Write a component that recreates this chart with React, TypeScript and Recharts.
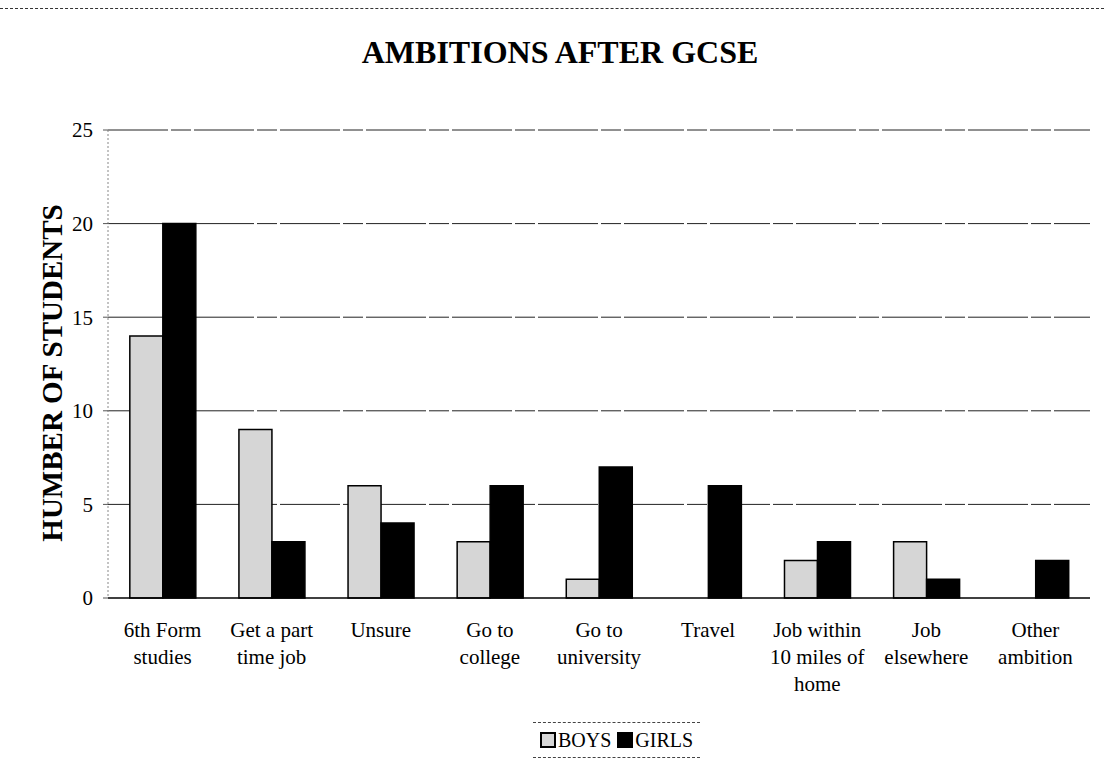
import React from 'react';
import { BarChart, Bar, XAxis, YAxis, CartesianGrid } from 'recharts';

const categories = [
  '6th Form\nstudies',
  'Get a part\ntime job',
  'Unsure',
  'Go to\ncollege',
  'Go to\nuniversity',
  'Travel',
  'Job within\n10 miles of\nhome',
  'Job\nelsewhere',
  'Other\nambition',
];
const boys = [14, 9, 6, 3, 1, 0, 2, 3, 0];
const girls = [20, 3, 4, 6, 7, 6, 3, 1, 2];
const yTicks = [0, 5, 10, 15, 20, 25];

const data = categories.map((name, i) => ({ name, boys: boys[i], girls: girls[i] }));

const FONT = '"Liberation Serif", "Times New Roman", serif';

function CategoryTick(props: any) {
  const { x, y, payload } = props;
  const lines = String(payload.value).split('\n');
  return (
    <text x={x} y={y + 31} textAnchor="middle" fontFamily={FONT} fontSize={21} fill="#000">
      {lines.map((l, i) => (
        <tspan key={i} x={x} dy={i === 0 ? 0 : 27}>{l}</tspan>
      ))}
    </text>
  );
}

function Legend() {
  return (
    <div
      style={{
        position: 'absolute', left: 533, top: 722, width: 167, height: 34,
        borderTop: '1px dashed #444', borderBottom: '1px dashed #444',
        display: 'flex', alignItems: 'center', justifyContent: 'center',
        fontFamily: FONT, fontSize: 20, color: '#000', gap: 6,
      }}
    >
      <span style={{ display: 'flex', alignItems: 'center' }}>
        <span style={{ width: 12, height: 12, background: '#d6d6d6', border: '2px solid #000', marginRight: 2 }} />
        BOYS
      </span>
      <span style={{ display: 'flex', alignItems: 'center' }}>
        <span style={{ width: 16, height: 16, background: '#000', marginRight: 2 }} />
        GIRLS
      </span>
    </div>
  );
}

export default function App() {
  return (
    <div style={{ position: 'absolute', left: 0, top: 0, width: 1104, height: 765, background: '#fff', overflow: 'hidden' }}>
      <div style={{ position: 'absolute', left: 0, top: 8, width: 1104, borderTop: '1px dashed #333' }} />
      <div
        style={{
          position: 'absolute', left: 0, top: 34, width: 1120, textAlign: 'center',
          fontFamily: FONT, fontWeight: 'bold', fontSize: 32, color: '#000', lineHeight: '37px',
        }}
      >
        AMBITIONS AFTER GCSE
      </div>
      <div
        style={{
          position: 'absolute', left: 52, top: 373, transform: 'translate(-50%, -50%) rotate(-90deg)',
          whiteSpace: 'nowrap', fontFamily: FONT, fontWeight: 'bold', fontSize: 29, color: '#000',
        }}
      >
        HUMBER OF STUDENTS
      </div>
      <div style={{ position: 'absolute', left: 0, top: 0 }}>
        <BarChart
          width={1104}
          height={765}
          data={data}
          margin={{ top: 130, right: 14, left: 48, bottom: 157 }}
          barCategoryGap="20%"
          barGap={0}
        >
          <CartesianGrid
            yAxisId="left"
            vertical={false}
            stroke="#222"
            strokeDasharray="60 3 20 3"
            horizontalValues={[5, 10, 15, 20, 25]}
          />
          <XAxis
            dataKey="name"
            interval={0}
            tick={<CategoryTick />}
            tickLine={false}
            axisLine={{ stroke: '#000', strokeWidth: 1.5 }}
            height={10}
          />
          <YAxis
            yAxisId="left"
            width={60}
            domain={[0, 25]}
            ticks={yTicks}
            tick={{ fontFamily: FONT, fontSize: 21, fill: '#000' }}
            tickLine={{ stroke: '#555' }}
            tickSize={5}
            tickMargin={10}
            axisLine={{ stroke: '#888', strokeDasharray: '2 2' }}
          />
          <YAxis
            yAxisId="right"
            orientation="right"
            width={0}
            domain={[0, 25]}
            tick={false}
            tickLine={false}
            axisLine={{ stroke: '#aaa', strokeDasharray: '2 3' }}
          />
          <Bar yAxisId="left" dataKey="boys" fill="#d6d6d6" stroke="#000" strokeWidth={1.5} isAnimationActive={false} />
          <Bar yAxisId="left" dataKey="girls" fill="#000" stroke="#000" strokeWidth={1.5} isAnimationActive={false} />
        </BarChart>
      </div>
      <Legend />
    </div>
  );
}
